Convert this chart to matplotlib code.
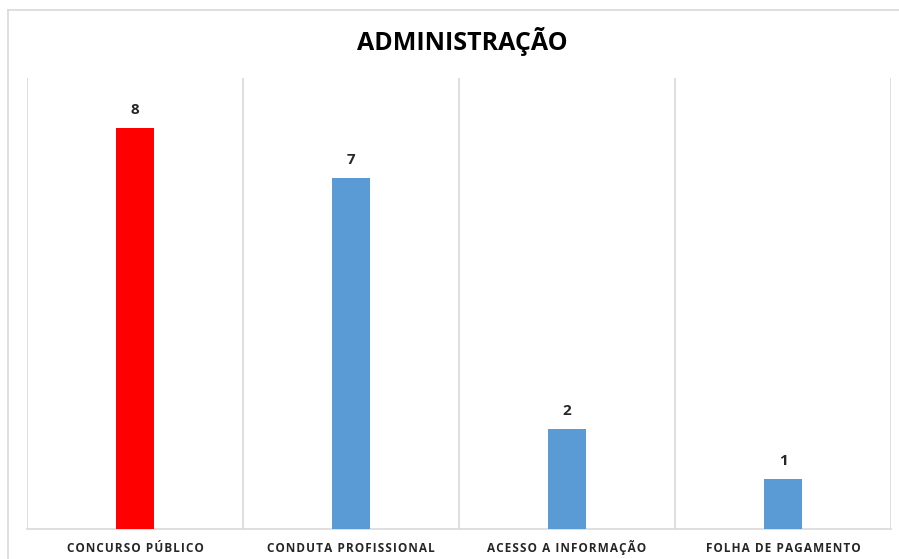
import matplotlib.pyplot as plt
from matplotlib.lines import Line2D

categorias = ["CONCURSO PÚBLICO", "CONDUTA PROFISSIONAL", "ACESSO A INFORMAÇÃO", "FOLHA DE PAGAMENTO"]
valores = [8, 7, 2, 1]
cores = ["#FF0000", "#5B9BD5", "#5B9BD5", "#5B9BD5"]

W, H = 899, 559
fig = plt.figure(figsize=(W / 100, H / 100), dpi=100)
plt.rcParams['font.family'] = ['Open Sans', 'DejaVu Sans']


def espacado(txt):
    # imita o espacamento entre letras do Excel
    return "\u200a".join(txt)


# borda externa do grafico (cortada a direita e embaixo)
fig.add_artist(Line2D([8 / W, 1], [1 - 10 / H, 1 - 10 / H], color="#D9D9D9", lw=1.2))
fig.add_artist(Line2D([8 / W, 8 / W], [0, 1 - 10 / H], color="#D9D9D9", lw=1.2))

ax = fig.add_axes([27 / W, 30 / H, (891 - 27) / W, (529 - 78) / H])
x = range(len(categorias))
ax.bar(x, valores, width=0.18, color=cores, zorder=3)
ax.set_xlim(-0.5, len(categorias) - 0.5)
ax.set_ylim(0, 9)

for i, v in zip(x, valores):
    ax.annotate(str(v), (i, v), xytext=(0, 8), textcoords="offset points",
                ha="center", va="bottom", fontsize=11, fontweight="bold", color="#262626")

# linhas verticais separando categorias
for b in [-0.5, 0.5, 1.5, 2.5, 3.5]:
    ax.axvline(b, color="#D9D9D9", lw=1.2, zorder=1)

for s in ["top", "left", "right"]:
    ax.spines[s].set_visible(False)
ax.spines["bottom"].set_color("#D9D9D9")
ax.spines["bottom"].set_linewidth(1.2)
ax.set_yticks([])
ax.set_xticks([])

for i, c in zip(x, categorias):
    ax.text(i, -23 / (529 - 78), espacado(c), transform=ax.get_xaxis_transform(),
            ha="center", va="baseline", fontsize=8.5, fontweight="bold", color="#262626")

fig.text(462 / W, 1 - 42 / H, "ADMINISTRAÇÃO", ha="center", va="center",
         fontsize=18, fontweight="bold", color="#000000")

fig.savefig("out.png", dpi=100)
